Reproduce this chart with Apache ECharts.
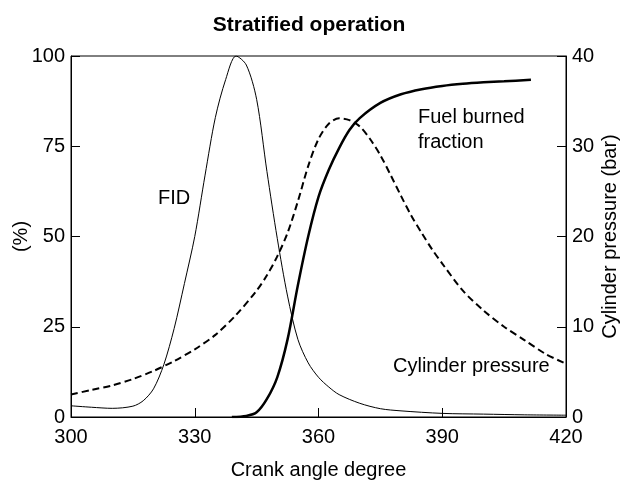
<!DOCTYPE html>
<html>
<head>
<meta charset="utf-8">
<script src="https://cdn.jsdelivr.net/npm/echarts@6/dist/echarts.min.js"></script>
<style>
  html, body { margin: 0; padding: 0; background: #fff; }
  #chart { width: 623px; height: 480px; }
</style>
</head>
<body>
<div id="chart"></div>
<script>
// crank angle (deg) vs FID signal (%)
const fidAngle = [300, 305, 310, 315, 317.5, 320, 322.5, 325, 327.5, 330, 332.5, 335, 337.5, 340, 342.5, 345, 347.5,
  350, 352.5, 355, 357.5, 360, 362.5, 365, 370, 375, 380, 390, 400, 410, 420]
const fidValue = [3.1, 2.7, 2.4, 3.0, 4.5, 7.8, 14.5, 24.5, 37, 50, 67, 83, 93.5, 100, 97.5, 88, 68,
  49.5, 33.5, 21.5, 15, 11, 8.3, 6.2, 3.8, 2.3, 1.7, 1.0, 0.8, 0.6, 0.5]

// crank angle (deg) vs cylinder pressure (bar)
const pressAngle = [300, 305, 310, 315, 320, 325, 330, 335, 340, 345, 347.5, 350, 352.5, 355, 357.5, 360, 362.5,
  365, 367.5, 370, 372.5, 375, 377.5, 380, 382.5, 385, 387.5, 390, 395, 400, 405, 410, 415, 420]
const pressValue = [2.5, 3.0, 3.5, 4.2, 5.1, 6.2, 7.5, 9.1, 11.3, 14.0, 15.7, 17.8, 20.4, 23.9, 27.8, 30.8, 32.5,
  33.1, 32.9, 32.2, 30.8, 29.0, 26.8, 24.5, 22.3, 20.4, 18.6, 17.0, 14.0, 11.8, 10.0, 8.5, 7.0, 5.9]

// crank angle (deg) vs fuel burned fraction (%)
const burnAngle = [339, 342.5, 345, 347.5, 350, 352.5, 355, 357.5, 360, 362.5, 365, 367.5, 370, 375, 380, 385,
  390, 395, 400, 405, 411.5]
const burnValue = [0, 0.3, 1.3, 5, 11, 21.5, 36.5, 50, 61, 68.5, 74.5, 79.5, 82.8, 87, 89.4, 90.8,
  91.7, 92.3, 92.7, 93, 93.4]

const xTicks = [300, 330, 360, 390, 420]
const pctTicks = [0, 25, 50, 75, 100]
const barTicks = [0, 10, 20, 30, 40]

const zip = (xs, ys) => xs.map((x, i) => [x, ys[i]])

const font = 'Liberation Sans, Arial, sans-serif'
const axisText = { color: '#000', fontSize: 20, fontFamily: font }

const chart = echarts.init(document.getElementById('chart'))

chart.setOption({
  animation: false,
  backgroundColor: '#fff',
  title: {
    text: 'Stratified operation',
    left: 304,
    top: 10,
    textAlign: 'center',
    textStyle: { color: '#000', fontSize: 21, fontWeight: 'bold', fontFamily: font },
  },
  grid: {
    left: 71,
    right: 57,
    top: 56,
    bottom: 63,
    outerBoundsMode: 'none',
    containLabel: false,
    show: true,
    borderColor: '#000',
    borderWidth: 1,
  },
  xAxis: {
    type: 'value',
    min: xTicks[0],
    max: xTicks[xTicks.length - 1],
    interval: 30,
    name: 'Crank angle degree',
    nameLocation: 'middle',
    nameGap: 43,
    nameMoveOverlap: false,
    nameTextStyle: axisText,
    axisLine: { lineStyle: { color: '#000', width: 1 } },
    axisTick: { inside: true, length: 9, lineStyle: { color: '#000' } },
    axisLabel: { ...axisText, margin: 10 },
    splitLine: { show: false },
  },
  yAxis: [
    {
      type: 'value',
      min: pctTicks[0],
      max: pctTicks[pctTicks.length - 1],
      interval: 25,
      name: '(%)',
      nameLocation: 'middle',
      nameGap: 40,
      nameRotate: 90,
      nameMoveOverlap: false,
      nameTextStyle: axisText,
      axisLine: { show: true, lineStyle: { color: '#000' } },
      axisTick: { show: true, inside: true, length: 9, lineStyle: { color: '#000' } },
      axisLabel: { ...axisText, margin: 6 },
      splitLine: { show: false },
    },
    {
      type: 'value',
      position: 'right',
      min: barTicks[0],
      max: barTicks[barTicks.length - 1],
      interval: 10,
      name: 'Cylinder pressure (bar)',
      nameLocation: 'middle',
      nameGap: 34,
      nameRotate: 90,
      nameMoveOverlap: false,
      nameTextStyle: axisText,
      axisLine: { show: true, lineStyle: { color: '#000' } },
      axisTick: { show: true, inside: true, length: 9, lineStyle: { color: '#000' } },
      axisLabel: { ...axisText, margin: 6 },
      splitLine: { show: false },
    },
  ],
  series: [
    {
      name: 'FID',
      type: 'line',
      yAxisIndex: 0,
      data: zip(fidAngle, fidValue),
      smooth: 0.3,
      symbol: 'none',
      lineStyle: { color: '#000', width: 1 },
    },
    {
      name: 'Cylinder pressure',
      type: 'line',
      yAxisIndex: 1,
      data: zip(pressAngle, pressValue),
      smooth: 0.3,
      symbol: 'none',
      lineStyle: { color: '#000', width: 2, type: [7, 4] },
    },
    {
      name: 'Fuel burned fraction',
      type: 'line',
      yAxisIndex: 0,
      data: zip(burnAngle, burnValue),
      smooth: 0.3,
      symbol: 'none',
      lineStyle: { color: '#000', width: 2.5 },
    },
  ],
  graphic: [
    {
      type: 'text', left: 158, top: 188,
      style: { text: 'FID', fill: '#000', fontSize: 20, fontFamily: font },
    },
    {
      type: 'text', left: 418, top: 105,
      style: { text: 'Fuel burned\nfraction', fill: '#000', fontSize: 20, lineHeight: 25, fontFamily: font },
    },
    {
      type: 'text', left: 393, top: 356,
      style: { text: 'Cylinder pressure', fill: '#000', fontSize: 20, fontFamily: font },
    },
  ],
})
</script>
</body>
</html>
